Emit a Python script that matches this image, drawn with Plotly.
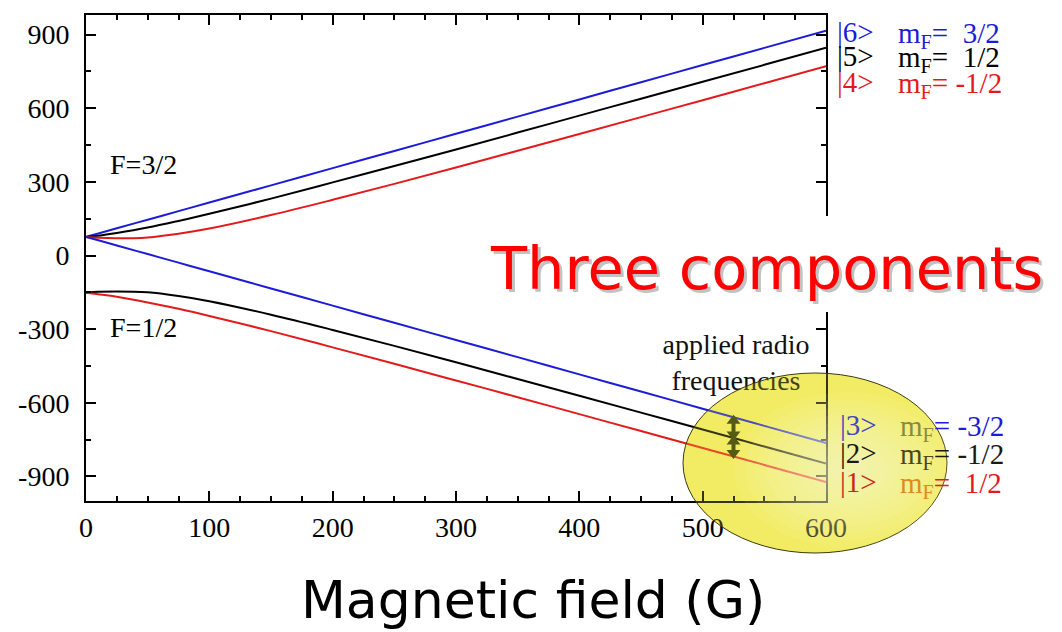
import numpy as np
import plotly.graph_objects as go

# Magnetic field (G) sample points and hyperfine level energies (MHz)
field_G = [0, 10, 25, 50, 75, 100, 150, 200, 250, 300, 350, 400, 450, 500, 550, 600]
state6 = [76, 90, 111, 146, 181, 216, 286, 356, 426, 496, 566, 636, 706, 776, 846, 916]
state5 = [76, 81, 92, 114, 141, 170, 232, 298, 365, 432, 501, 570, 639, 708, 777, 847]
state4 = [76, 72, 70, 74, 89, 110, 165, 227, 292, 359, 427, 495, 564, 633, 702, 771]
state3 = [76, 62, 41, 6, -29, -64, -134, -204, -274, -344, -414, -484, -554, -624, -694, -764]
state2 = [-152, -148, -146, -150, -165, -186, -241, -303, -368, -435, -503, -571, -640, -709, -778, -847]
state1 = [-152, -158, -168, -191, -217, -246, -308, -374, -441, -509, -577, -646, -715, -784, -853, -923]

x_ticks = [0, 100, 200, 300, 400, 500, 600]
y_ticks = [-900, -600, -300, 0, 300, 600, 900]
y_tick_text = ["-900", "-600", "-300", "0", "300", "600", "900"]

kets = ["|6>", "|5>", "|4>", "|3>", "|2>", "|1>"]
mf_values = ["\u00a0\u00a03/2", "\u00a0\u00a01/2", " -1/2", " -3/2", " -1/2", "\u00a0\u00a01/2"]

rf_field = 525  # field where the rf transitions are marked

BLUE = "#1c1cd8"
BLACK = "#000000"
RED = "#e31a1c"
SERIF = "Liberation Serif, Times New Roman, serif"
SANS = "DejaVu Sans, Verdana, sans-serif"

W, H = 1062, 632
L, R, T, B = 86, 236, 15, 131
pw, ph = W - L - R, H - T - B


def px(xp):
    return (xp - L) / pw


def py(yp):
    return (H - B - yp) / ph


fig = go.Figure()

levels = [(state6, BLUE), (state5, BLACK), (state4, RED),
          (state3, BLUE), (state2, BLACK), (state1, RED)]
for ys, col in levels:
    fig.add_trace(go.Scatter(x=field_G, y=ys, mode="lines", line_shape="spline",
                             line=dict(color=col, width=2), hoverinfo="skip"))

# rf transition arrows between neighbouring lower levels
e3 = float(np.interp(rf_field, field_G, state3))
e2 = float(np.interp(rf_field, field_G, state2))
e1 = float(np.interp(rf_field, field_G, state1))
head = 14
ARROW = "#2a3208"
for top, bot in [(e3, e2), (e2, e1)]:
    fig.add_trace(go.Scatter(x=[rf_field, rf_field], y=[top - head, bot + head], mode="lines",
                             line=dict(color=ARROW, width=4), hoverinfo="skip"))
    fig.add_trace(go.Scatter(x=[rf_field], y=[top - head], mode="markers",
                             marker=dict(symbol="triangle-up", size=12, color=ARROW), hoverinfo="skip"))
    fig.add_trace(go.Scatter(x=[rf_field], y=[bot + head], mode="markers",
                             marker=dict(symbol="triangle-down", size=12, color=ARROW), hoverinfo="skip"))

# manifold labels and rf note
fig.add_trace(go.Scatter(x=[19.5, 19.5], y=[360, -303], mode="text", text=["F=3/2", "F=1/2"],
                         textposition="middle right", cliponaxis=False,
                         textfont=dict(family=SERIF, size=28, color="black"), hoverinfo="skip"))
fig.add_trace(go.Scatter(x=[527], y=[-446], mode="text", text=["applied radio<br>frequencies"],
                         textposition="middle center", cliponaxis=False,
                         textfont=dict(family=SERIF, size=28, color="#111"), hoverinfo="skip"))

shapes = [
    # highlighted region behind the lower labels
    dict(type="circle", xref="paper", yref="paper", layer="below",
         x0=px(683), x1=px(947), y0=py(553), y1=py(373),
         fillcolor="#f2ec6e", line=dict(width=0)),
    dict(type="circle", xref="paper", yref="paper", layer="above",
         x0=px(683), x1=px(947), y0=py(553), y1=py(373),
         fillcolor="rgba(240,235,70,0.22)", line=dict(color="#3a3a10", width=1)),
]
for k in range(10):
    f = 0.86 - 0.08 * k
    cx, cy, rx, ry = 848, 470, 132 * f, 90 * f
    shapes.append(dict(type="circle", xref="paper", yref="paper", layer="above",
                       x0=px(cx - rx), x1=px(cx + rx), y0=py(cy + ry), y1=py(cy - ry),
                       fillcolor="rgba(255,255,235,0.07)", line=dict(width=0)))
# white box behind the headline text
shapes.append(dict(type="rect", xref="paper", yref="paper", layer="above",
                   x0=px(488), x1=px(1045), y0=py(312), y1=py(216),
                   fillcolor="white", line=dict(width=0)))

annotations = [
    dict(text="Three components", xref="paper", yref="paper", x=px(769), y=py(271),
         xanchor="center", yanchor="middle", showarrow=False,
         font=dict(family=SANS, size=59, color="rgba(120,120,120,0.45)")),
    dict(text="Three components", xref="paper", yref="paper", x=px(766), y=py(268),
         xanchor="center", yanchor="middle", showarrow=False,
         font=dict(family=SANS, size=59, color="#ff0000")),
    dict(text="Magnetic field (G)", xref="paper", yref="paper", x=px(533), y=py(600),
         xanchor="center", yanchor="middle", showarrow=False,
         font=dict(family=SANS, size=52, color="black")),
]

# state labels on the right
ket_y = [32, 56, 82, 425, 453, 482]
ket_col = [BLUE, BLACK, RED, "#4646b8", "#1a1a10", "#c8281c"]
mf_col = [BLUE, BLACK, RED, "#8a8a3c", "#4a4a18", "#e08a1c"]
val_col = [BLUE, BLACK, RED, BLUE, "#1a1a10", RED]
for i in range(6):
    xk = 835 if i < 3 else 838
    xm = 896 if i < 3 else 898
    annotations.append(dict(text=kets[i], xref="paper", yref="paper", x=px(xk), y=py(ket_y[i]),
                            xanchor="left", yanchor="middle", showarrow=False,
                            font=dict(family=SERIF, size=29, color=ket_col[i])))
    annotations.append(dict(text="<span style='color:%s'>m<sub>F</sub></span>=%s" % (mf_col[i], mf_values[i]),
                            xref="paper", yref="paper", x=px(xm), y=py(ket_y[i] + 3),
                            xanchor="left", yanchor="middle", showarrow=False,
                            font=dict(family=SERIF, size=29, color=val_col[i])))

axis_common = dict(showgrid=False, zeroline=False, showline=True, linecolor="black", linewidth=2,
                   mirror="ticks", ticks="inside", ticklen=10, tickwidth=2, tickcolor="black",
                   tickfont=dict(family=SERIF, size=28, color="black"))

fig.update_layout(
    width=W, height=H, margin=dict(l=L, r=R, t=T, b=B),
    paper_bgcolor="white", plot_bgcolor="rgba(0,0,0,0)", showlegend=False,
    xaxis=dict(range=[0, 600], tickmode="array", tickvals=x_ticks,
               minor=dict(tickmode="linear", tick0=0, dtick=25, ticks="inside", ticklen=5,
                          tickwidth=2, tickcolor="black"), **axis_common),
    yaxis=dict(range=[-1000, 980], tickmode="array", tickvals=y_ticks, ticktext=y_tick_text,
               ticklabelstandoff=9,
               minor=dict(tickmode="linear", tick0=0, dtick=150, ticks="inside", ticklen=5,
                          tickwidth=2, tickcolor="black"), **axis_common),
    shapes=shapes, annotations=annotations,
)

fig.write_html("out.html")
